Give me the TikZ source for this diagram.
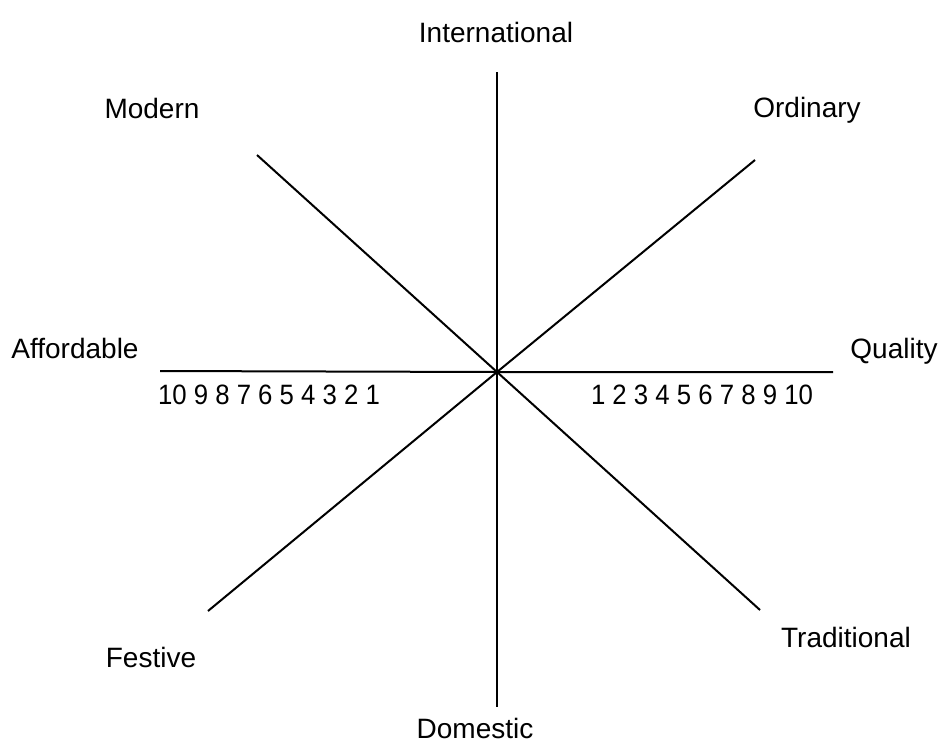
\documentclass[tikz,border=0pt]{standalone}
\usepackage{fontspec}
\setmainfont{Liberation Sans}
\begin{document}
\begin{tikzpicture}[x=0.5pt,y=-0.5pt,
  axis/.style={line width=1pt,black},
  lbl/.style={anchor=base,inner sep=0pt,font=\fontsize{14pt}{16pt}\selectfont}]
\useasboundingbox (0,0) rectangle (940,744);
% end points
\coordinate (c) at (497,372);
\coordinate (top) at (497,72);
\coordinate (bot) at (497,707);
\coordinate (left) at (160,371);
\coordinate (right) at (833,372);
\coordinate (tl) at (257,155);
\coordinate (br) at (760,610);
\coordinate (tr) at (755,160);
\coordinate (bl) at (208,611);
% axes
\draw[axis] (top) -- (bot);
\draw[axis] (left) -- (c) -- (right);
\draw[axis] (tl) -- (c) -- (br);
\draw[axis] (tr) -- (c) -- (bl);
% labels
\node[lbl] (intl) at (496,42) {International};
\node[lbl] (modern) at (152,118) {Modern};
\node[lbl] (ordinary) at (807,117) {Ordinary};
\node[lbl] (afford) at (75,358) {Affordable};
\node[lbl] (quality) at (894,358) {Quality};
\node[lbl] (lnum) at (269,404) {\scalebox{0.92}[1]{10 9 8 7 6 5 4 3 2 1}};
\node[lbl] (rnum) at (702,404) {\scalebox{0.92}[1]{1 2 3 4 5 6 7 8 9 10}};
\node[lbl] (trad) at (846,647) {Traditional};
\node[lbl] (festive) at (151,667) {Festive};
\node[lbl] (domestic) at (475,738) {Domestic};
\end{tikzpicture}
\end{document}
